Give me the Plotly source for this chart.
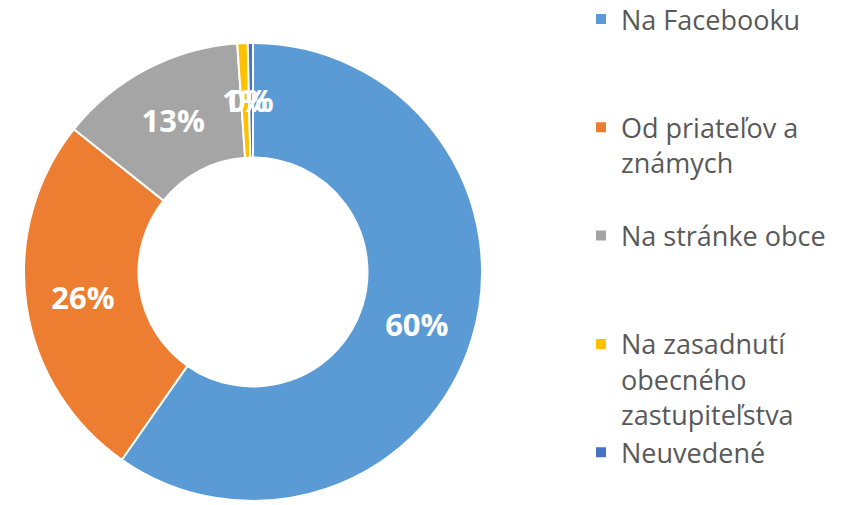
import math
import plotly.graph_objects as go

labels = ["Na Facebooku", "Od priateľov a<br>známych", "Na stránke obce",
          "Na zasadnutí<br>obecného<br>zastupiteľstva", "Neuvedené"]
legend_padding = ["<br>\u00a0<br>\u00a0", "<br>\u00a0", "<br>\u00a0<br>\u00a0", "", ""]
values = [163, 71, 36, 2, 1]
colors = ["#5B9BD5", "#ED7D31", "#A5A5A5", "#FFC000", "#4472C4"]

W, H = 843, 505
HOLE = 0.5
DOM_X = [24 / W, 482 / W]
DOM_Y = [4 / H, 462 / H]
LABEL_FONT = dict(family="Open Sans", size=31, color="white", weight="bold")

total = sum(values)
small = [v / total < 0.02 for v in values]
pct_text = [f"{round(100 * v / total)}%" for v in values]

fig = go.Figure(go.Pie(
    labels=[l + p for l, p in zip(labels, legend_padding)],
    values=values,
    sort=False,
    direction="clockwise",
    rotation=0,
    hole=HOLE,
    marker=dict(colors=colors, line=dict(color="white", width=2)),
    text=["" if s else t for s, t in zip(small, pct_text)],
    texttemplate="%{text}",
    textposition="inside",
    insidetextorientation="horizontal",
    textfont=LABEL_FONT,
    domain=dict(x=DOM_X, y=DOM_Y),
))

# labels for slices too thin for Plotly's inside text: placed at the ring's middle
cxp = (DOM_X[0] + DOM_X[1]) / 2
cyp = (DOM_Y[0] + DOM_Y[1]) / 2
R = min((DOM_X[1] - DOM_X[0]) * W, (DOM_Y[1] - DOM_Y[0]) * H) / 2
r_mid = R * (1 + HOLE) / 2
cum = 0
for v, s, t in zip(values, small, pct_text):
    if s:
        theta = 2 * math.pi * (cum + v / 2) / total
        fig.add_annotation(
            x=cxp + r_mid * math.sin(theta) / W,
            y=cyp + r_mid * math.cos(theta) / H,
            xref="paper", yref="paper", text=t, showarrow=False,
            font=LABEL_FONT, xanchor="center", yanchor="middle",
        )
    cum += v

fig.update_layout(
    width=W, height=H,
    margin=dict(l=0, r=0, t=0, b=0, autoexpand=False),
    paper_bgcolor="white",
    plot_bgcolor="white",
    legend=dict(
        x=581 / W, xanchor="left", y=1.01, yanchor="top",
        valign="top", maxheight=800,
        font=dict(family="Open Sans", size=27, color="#595959"),
        bgcolor="rgba(0,0,0,0)",
    ),
)

fig.write_html("out.html", config={"displayModeBar": False},
               post_script="document.body.style.margin='0';")
